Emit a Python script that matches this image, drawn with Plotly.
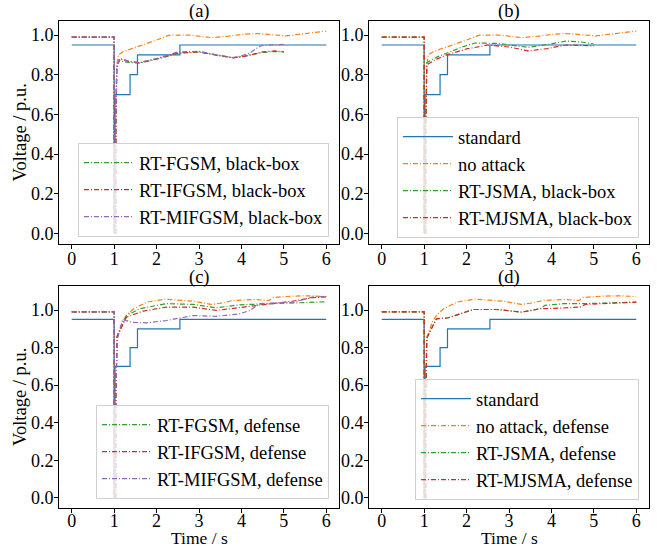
import plotly.graph_objects as go

# ---------------- data ----------------
time_ticks = [0, 1, 2, 3, 4, 5, 6]
volt_ticks = [0.0, 0.2, 0.4, 0.6, 0.8, 1.0]

# LVRT standard curve
std_t = [0, 1.0, 1.0, 1.02, 1.02, 1.375, 1.375, 1.55, 1.55, 2.55, 2.55, 6.0]
std_v = [0.95, 0.95, 0.0, 0.0, 0.7, 0.7, 0.8, 0.8, 0.9, 0.9, 0.95, 0.95]

# common pre-fault / fault segment
fault_t = [0, 1.0, 1.0, 1.04]
fault_v = [0.99, 0.99, 0.0, 0.0]

# no attack
noatk_t = [1.04, 1.07, 1.1, 1.2, 1.33, 1.6, 1.8, 2.0, 2.3, 2.8, 3.05, 3.3, 3.7, 4.0, 4.35, 4.7, 5.05, 5.4, 5.7, 6.0]
noatk_v = [0.55, 0.86, 0.9, 0.915, 0.925, 0.945, 0.958, 0.975, 1.0, 1.0, 0.993, 0.987, 0.995, 1.003, 1.008, 1.002, 0.996, 1.005, 1.012, 1.02]

# no attack, defense
noatkd_t = [1.04, 1.07, 1.2, 1.3, 1.45, 1.77, 2.2, 2.6, 2.9, 3.28, 3.5, 3.8, 4.3, 4.65, 4.75, 5.2, 5.6, 6.0]
noatkd_v = [0.55, 0.86, 0.94, 0.975, 1.005, 1.042, 1.058, 1.05, 1.046, 1.03, 1.036, 1.051, 1.056, 1.051, 1.067, 1.074, 1.076, 1.072]

# (a) black-box gradient attacks
a_fgsm_t = [1.04, 1.06, 1.13, 1.22, 1.35, 1.6, 2.0, 2.5, 3.0, 3.5, 3.8, 4.0, 4.5, 4.8, 5.0]
a_fgsm_v = [0.55, 0.83, 0.875, 0.865, 0.862, 0.858, 0.878, 0.908, 0.914, 0.895, 0.886, 0.89, 0.912, 0.918, 0.914]
a_ifgsm_t = [1.04, 1.06, 1.13, 1.22, 1.35, 1.6, 2.0, 2.5, 3.0, 3.5, 3.8, 4.0, 4.5, 4.8, 5.0]
a_ifgsm_v = [0.55, 0.84, 0.88, 0.874, 0.866, 0.86, 0.88, 0.91, 0.915, 0.895, 0.885, 0.89, 0.915, 0.92, 0.915]
a_mifgsm_t = [1.04, 1.06, 1.13, 1.22, 1.35, 1.6, 2.0, 2.5, 3.0, 3.5, 3.8, 4.0, 4.2, 4.3, 4.45, 4.6, 5.0]
a_mifgsm_v = [0.55, 0.84, 0.882, 0.876, 0.868, 0.862, 0.882, 0.915, 0.918, 0.897, 0.887, 0.895, 0.91, 0.925, 0.945, 0.95, 0.953]

# (b) black-box saliency attacks
b_jsma_t = [1.04, 1.06, 1.31, 1.53, 1.9, 2.2, 2.75, 3.1, 3.45, 3.9, 4.35, 4.7, 5.0]
b_jsma_v = [0.55, 0.86, 0.89, 0.91, 0.94, 0.96, 0.958, 0.948, 0.938, 0.952, 0.97, 0.965, 0.955]
b_mjsma_t = [1.04, 1.06, 1.31, 1.53, 2.0, 2.5, 3.0, 3.45, 3.9, 4.35, 4.7, 5.0]
b_mjsma_v = [0.55, 0.85, 0.88, 0.9, 0.93, 0.95, 0.94, 0.92, 0.932, 0.95, 0.948, 0.945]

# (c) gradient attacks with defense
c_fgsm_t = [1.04, 1.07, 1.29, 1.6, 2.23, 2.86, 3.41, 3.96, 4.75, 5.4, 6.0]
c_fgsm_v = [0.55, 0.86, 0.971, 1.007, 1.034, 1.03, 1.012, 1.028, 1.034, 1.04, 1.044]
c_ifgsm_t = [1.04, 1.07, 1.29, 1.68, 2.23, 2.86, 3.41, 3.96, 4.75, 5.22, 5.69, 6.0]
c_ifgsm_v = [0.55, 0.86, 0.962, 0.994, 1.016, 1.016, 0.998, 1.012, 1.034, 1.048, 1.066, 1.07]
c_mifgsm_t = [1.04, 1.07, 1.2, 1.41, 1.76, 2.23, 2.86, 3.41, 3.96, 4.2, 4.43, 5.22, 5.38, 5.69, 6.0]
c_mifgsm_v = [0.55, 0.84, 0.95, 0.935, 0.932, 0.944, 0.971, 0.966, 0.98, 0.998, 1.034, 1.042, 1.051, 1.07, 1.072]

# (d) saliency attacks with defense
d_jsma_t = [1.04, 1.06, 1.29, 1.57, 2.16, 2.71, 3.3, 3.74, 3.85, 4.29, 4.75, 5.4, 6.0]
d_jsma_v = [0.55, 0.85, 0.953, 0.959, 1.003, 1.003, 0.989, 1.007, 1.025, 1.034, 1.034, 1.038, 1.042]
d_mjsma_t = [1.04, 1.06, 1.29, 1.57, 2.16, 2.71, 3.3, 3.74, 4.2, 4.68, 4.8, 5.4, 6.0]
d_mjsma_v = [0.55, 0.85, 0.953, 0.959, 1.003, 1.003, 0.989, 1.007, 1.01, 1.016, 1.03, 1.037, 1.042]

panel_titles = ["(a)", "(b)", "(c)", "(d)"]

# ---------------- styling ----------------
FONT = "'Liberation Serif', 'Times New Roman', Times, serif"
W, H = 657, 548
BLUE, ORANGE, GREEN, RED, PURPLE = "#1f77b4", "#ff7f0e", "#2ca02c", "#d62728", "#9467bd"
DASHDOT = "5px,2px,1px,2px"

# pixel boxes of the four panels (x0, x1, y0, y1)
boxes = [(59, 339, 21, 244), (369, 649, 21, 244), (59, 339, 286, 508), (369, 649, 286, 508)]
yranges = [[-0.054, 1.071], [-0.054, 1.071], [-0.054, 1.128], [-0.054, 1.128]]
xstandoff = [-6, -6, -8, -8]
# legend box: left x, bottom y (pixels)
legend_pos = [(78, 237), (397, 238), (96, 499), (415, 500)]

fig = go.Figure()


def full(t, v):
    return fault_t + t, fault_v + v


def add(panel, t, v, color, name=None, dash=DASHDOT, is_std=False):
    idx = panel + 1
    xa = "x" if idx == 1 else f"x{idx}"
    ya = "y" if idx == 1 else f"y{idx}"
    lg = "legend" if idx == 1 else f"legend{idx}"
    if not is_std:
        t, v = full(t, v)
    fig.add_trace(go.Scatter(
        x=t, y=v, mode="lines", xaxis=xa, yaxis=ya, legend=lg,
        line=dict(color=color, width=1.2, dash="solid" if is_std else dash),
        name=name if name else "", showlegend=name is not None,
    ))


# (a)
add(0, std_t, std_v, BLUE, is_std=True)
add(0, noatk_t, noatk_v, ORANGE)
add(0, a_fgsm_t, a_fgsm_v, GREEN, "RT-FGSM, black-box")
add(0, a_ifgsm_t, a_ifgsm_v, RED, "RT-IFGSM, black-box")
add(0, a_mifgsm_t, a_mifgsm_v, PURPLE, "RT-MIFGSM, black-box")
# (b)
add(1, std_t, std_v, BLUE, "standard", is_std=True)
add(1, noatk_t, noatk_v, ORANGE, "no attack")
add(1, b_jsma_t, b_jsma_v, GREEN, "RT-JSMA, black-box")
add(1, b_mjsma_t, b_mjsma_v, RED, "RT-MJSMA, black-box")
# (c)
add(2, std_t, std_v, BLUE, is_std=True)
add(2, noatkd_t, noatkd_v, ORANGE)
add(2, c_fgsm_t, c_fgsm_v, GREEN, "RT-FGSM, defense")
add(2, c_ifgsm_t, c_ifgsm_v, RED, "RT-IFGSM, defense")
add(2, c_mifgsm_t, c_mifgsm_v, PURPLE, "RT-MIFGSM, defense")
# (d)
add(3, std_t, std_v, BLUE, "standard", is_std=True)
add(3, noatkd_t, noatkd_v, ORANGE, "no attack, defense")
add(3, d_jsma_t, d_jsma_v, GREEN, "RT-JSMA, defense")
add(3, d_mjsma_t, d_mjsma_v, RED, "RT-MJSMA, defense")

layout = dict(
    width=W, height=H, margin=dict(l=0, r=0, t=0, b=0),
    paper_bgcolor="white", plot_bgcolor="white",
    font=dict(family=FONT, size=17, color="black"),
    annotations=[],
)
tickfont = dict(family=FONT, size=18, color="black")
for i, (x0, x1, y0, y1) in enumerate(boxes):
    idx = i + 1
    sfx = "" if idx == 1 else str(idx)
    layout[f"xaxis{sfx}"] = dict(
        domain=[x0 / W, x1 / W], range=[-0.3, 6.3], anchor=f"y{sfx}",
        tickvals=time_ticks, ticktext=[str(t) for t in time_ticks],
        showline=True, mirror=True, linecolor="black", linewidth=1,
        ticks="outside", ticklen=4, tickcolor="black", showgrid=False, zeroline=False,
        tickfont=tickfont, ticklabelstandoff=xstandoff[i],
    )
    layout[f"yaxis{sfx}"] = dict(
        domain=[1 - y1 / H, 1 - y0 / H], range=yranges[i], anchor=f"x{sfx}",
        tickvals=volt_ticks, ticktext=[f"{v:.1f}" for v in volt_ticks],
        showline=True, mirror=True, linecolor="black", linewidth=1,
        ticks="outside", ticklen=4, tickcolor="black", showgrid=False, zeroline=False,
        tickfont=tickfont, ticklabelstandoff=-3,
    )
    lx, ly = legend_pos[i]
    lname = "legend" if idx == 1 else f"legend{idx}"
    layout[lname] = dict(
        x=lx / W, y=1 - ly / H, xanchor="left", yanchor="bottom",
        bgcolor="rgba(255,255,255,0.8)", bordercolor="#d0d0d0", borderwidth=1,
        font=dict(family=FONT, size=18.5, color="black"), itemwidth=50,
    )
    layout["annotations"].append(dict(
        text=panel_titles[i], x=(x0 + x1) / 2 / W, y=1 - (y0 - 9) / H,
        xref="paper", yref="paper", showarrow=False, xanchor="center", yanchor="middle",
        font=dict(family=FONT, size=18.5, color="black"),
    ))

for yc in [(21 + 244) / 2, (286 + 508) / 2]:
    layout["annotations"].append(dict(
        text="Voltage / p.u.", x=20 / W, y=1 - yc / H, textangle=-90,
        xref="paper", yref="paper", showarrow=False, xanchor="center", yanchor="middle",
        font=dict(family=FONT, size=18.5, color="black"),
    ))
for xc in [(59 + 339) / 2, (369 + 649) / 2]:
    layout["annotations"].append(dict(
        text="Time / s", x=xc / W, y=1 - 538 / H,
        xref="paper", yref="paper", showarrow=False, xanchor="center", yanchor="middle",
        font=dict(family=FONT, size=17.5, color="black"), borderpad=0,
    ))

fig.update_layout(**layout)
fig.write_html("out.html", config={"displayModeBar": False},
               post_script="document.body.style.margin='0px';document.body.style.padding='0px';")
